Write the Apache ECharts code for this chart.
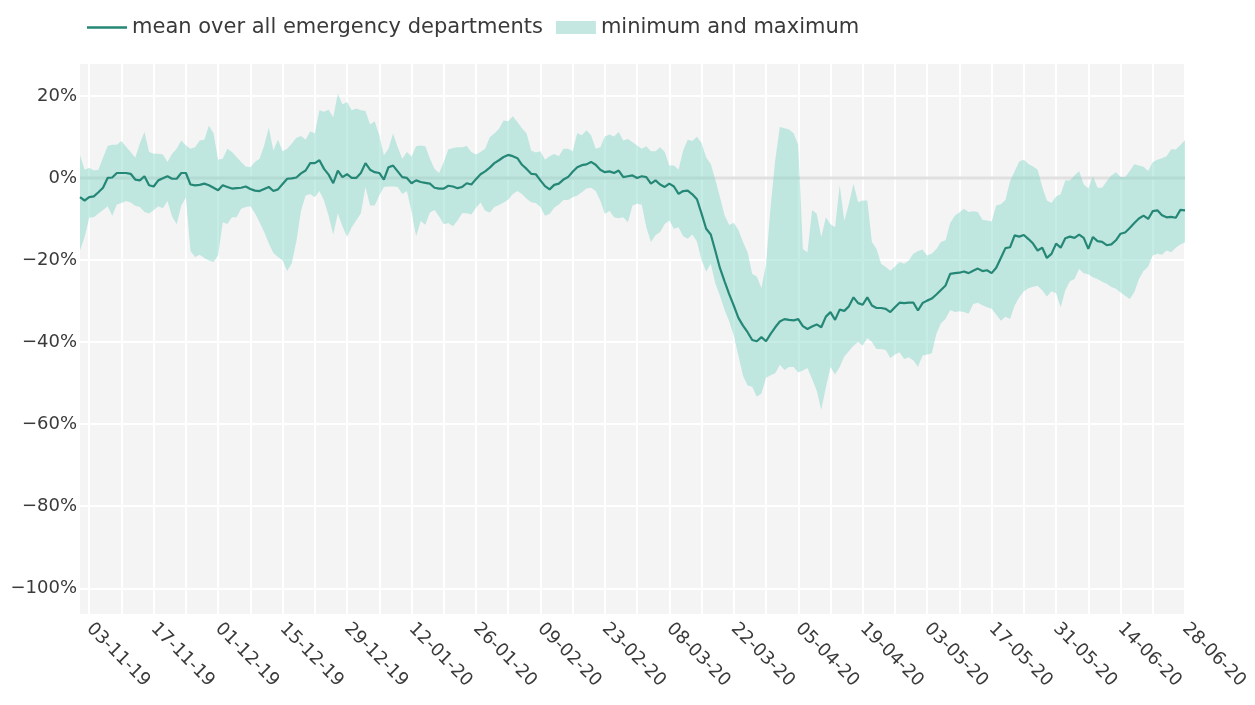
<!DOCTYPE html>
<html>
<head>
<meta charset="utf-8">
<script src="https://cdn.jsdelivr.net/npm/echarts@6/dist/echarts.min.js"></script>
<style>
  html, body { margin: 0; padding: 0; background: #fff; }
  #chart { width: 1255px; height: 705px; }
</style>
</head>
<body>
<div id="chart"></div>
<script>
// daily values, 01-11-19 .. 28-06-20 (change in %)
const startDate = '2019-11-01'
const dayCount = 241

const meanValues = [
  -4.7, -5.5, -4.7, -4.5, -3.5, -2.4, 0.0, 0.1, 1.2, 1.2,
  1.2, 1.0, -0.4, -0.6, 0.4, -1.8, -2.1, -0.6, -0.1, 0.4,
  -0.2, -0.2, 1.2, 1.2, -1.6, -1.8, -1.7, -1.4, -1.8, -2.4,
  -3.0, -1.8, -2.2, -2.6, -2.5, -2.4, -2.1, -2.7, -3.1, -3.2,
  -2.7, -2.2, -3.2, -2.8, -1.5, -0.2, -0.1, 0.1, 1.1, 1.8,
  3.6, 3.6, 4.3, 2.2, 0.8, -1.3, 1.8, 0.2, 0.9, 0.0,
  0.0, 1.2, 3.6, 2.0, 1.4, 1.2, -0.4, 2.6, 3.0, 1.6,
  0.2, 0.0, -1.3, -0.6, -1.0, -1.2, -1.4, -2.4, -2.6, -2.6,
  -1.9, -2.1, -2.5, -2.2, -1.3, -1.6, -0.3, 0.9, 1.6, 2.5,
  3.6, 4.3, 5.1, 5.6, 5.3, 4.8, 3.2, 2.2, 1.0, 0.9,
  -0.6, -2.0, -2.8, -1.7, -1.4, -0.4, 0.2, 1.5, 2.6, 3.1,
  3.3, 3.9, 3.2, 2.0, 1.4, 1.6, 1.2, 1.8, 0.2, 0.4,
  0.6, 0.0, 0.4, 0.2, -1.4, -0.6, -1.6, -2.2, -1.4, -2.1,
  -3.9, -3.2, -3.1, -4.0, -5.2, -8.7, -12.4, -13.8, -17.8, -22.0,
  -25.2, -28.3, -31.1, -34.1, -36.0, -37.6, -39.5, -39.8, -38.8, -39.8,
  -38.0, -36.4, -35.0, -34.4, -34.6, -34.7, -34.4, -36.1, -36.8, -36.2,
  -35.7, -36.4, -33.8, -32.7, -34.6, -32.1, -32.4, -31.3, -29.1, -30.5,
  -30.9, -29.1, -31.1, -31.7, -31.7, -31.9, -32.7, -31.5, -30.4, -30.5,
  -30.4, -30.4, -32.3, -30.5, -29.9, -29.4, -28.4, -27.3, -26.2, -23.4,
  -23.2, -23.1, -22.8, -23.2, -22.6, -22.1, -22.7, -22.5, -23.2, -21.9,
  -19.5, -17.1, -16.9, -14.0, -14.3, -13.9, -14.9, -16.0, -17.7, -17.0,
  -19.5, -18.5, -16.0, -17.0, -14.7, -14.3, -14.6, -13.8, -14.6, -17.3,
  -14.4, -15.4, -15.6, -16.4, -16.2, -15.2, -13.6, -13.3, -12.2, -11.0,
  -9.9, -9.2, -10.0, -8.1, -7.9, -9.1, -9.6, -9.5, -9.7, -7.8,
  -7.9
]

const maxValues = [
  5.5, 2.0, 2.5, 1.8, 2.0, 4.9, 7.8, 8.1, 8.1, 9.0,
  7.6, 6.3, 4.9, 8.4, 11.2, 6.3, 5.9, 5.9, 5.7, 3.9,
  5.9, 7.1, 9.1, 7.9, 7.1, 7.5, 9.1, 9.3, 12.8, 10.9,
  4.4, 4.7, 7.1, 6.3, 5.1, 3.9, 2.8, 2.6, 3.9, 4.7,
  7.9, 12.2, 6.7, 9.3, 6.5, 7.1, 8.4, 9.8, 10.2, 9.3,
  11.4, 10.8, 16.5, 16.1, 16.6, 14.8, 20.5, 17.9, 18.5, 16.5,
  16.9, 16.5, 16.3, 13.0, 13.8, 10.4, 5.5, 7.1, 10.8, 7.5,
  4.7, 6.3, 5.2, 7.7, 7.9, 7.7, 4.7, 2.2, 1.2, 3.9,
  6.9, 7.3, 7.5, 7.5, 7.8, 6.3, 5.7, 6.3, 7.1, 9.9,
  10.8, 12.0, 14.0, 13.8, 15.0, 13.6, 12.1, 10.8, 6.7, 6.2,
  6.5, 4.4, 5.3, 5.8, 5.3, 7.1, 7.1, 6.5, 10.9, 10.4,
  11.6, 10.4, 7.1, 7.5, 10.1, 10.6, 10.1, 11.2, 9.1, 9.5,
  8.7, 7.9, 7.1, 7.7, 6.5, 6.5, 7.5, 6.3, 3.0, 3.0,
  2.0, 6.7, 9.3, 9.0, 10.0, 8.5, 5.0, 3.4, -0.5, -4.7,
  -9.1, -11.5, -10.9, -12.7, -15.6, -18.1, -23.4, -24.0, -26.8, -21.0,
  -7.0, 4.3, 12.4, 12.1, 11.8, 10.9, 8.0, -17.3, -18.1, -7.9,
  -8.7, -14.4, -9.6, -11.3, -12.0, -1.8, -10.5, -6.3, -1.4, -5.9,
  -5.5, -5.5, -15.6, -17.3, -20.9, -21.7, -22.6, -21.6, -20.5, -20.9,
  -20.1, -18.5, -17.8, -17.5, -18.9, -18.5, -17.3, -15.6, -15.2, -11.0,
  -9.2, -8.4, -7.5, -8.3, -8.1, -8.3, -10.2, -10.4, -10.6, -6.7,
  -6.4, -5.4, -0.8, 1.6, 4.0, 4.4, 3.4, 2.8, 2.0, -2.2,
  -5.5, -6.1, -4.5, -4.0, -0.6, -0.6, 0.6, 1.7, -1.6, -2.6,
  0.4, -2.4, -2.4, -0.8, 0.6, 1.4, 0.2, 0.2, 1.7, 3.3,
  3.0, 2.7, 1.7, 3.9, 4.4, 4.8, 5.3, 7.0, 6.9, 8.0,
  9.2
]

const minValues = [
  -17.7, -14.4, -9.7, -9.6, -8.7, -7.8, -6.9, -9.2, -6.5, -6.1,
  -5.6, -6.0, -6.8, -7.1, -8.3, -8.7, -7.9, -6.9, -7.4, -5.6,
  -9.4, -11.3, -6.7, -4.8, -17.8, -19.3, -18.7, -19.5, -20.1, -20.5,
  -18.9, -10.8, -11.2, -9.6, -9.6, -7.5, -7.1, -6.9, -8.6, -10.8,
  -13.2, -15.9, -18.3, -19.3, -20.1, -22.7, -20.8, -15.4, -8.0, -4.3,
  -3.9, -4.7, -3.2, -5.5, -9.2, -13.8, -8.6, -11.8, -14.4, -12.0,
  -10.4, -8.6, -2.2, -6.7, -6.7, -4.3, -2.2, -2.1, -2.1, -2.2,
  -3.9, -3.2, -8.1, -14.2, -10.5, -11.4, -8.4, -7.8, -9.4, -11.3,
  -11.0, -11.8, -10.4, -8.6, -8.6, -8.9, -7.3, -6.0, -8.0, -8.4,
  -7.1, -6.6, -6.0, -5.3, -3.9, -3.2, -3.9, -5.1, -5.9, -6.1,
  -7.1, -9.2, -8.8, -7.3, -6.5, -5.4, -5.4, -4.7, -4.3, -3.5,
  -2.6, -2.4, -3.2, -5.5, -8.8, -8.0, -9.6, -9.8, -9.6, -10.8,
  -6.7, -6.3, -6.5, -12.0, -15.6, -14.0, -13.2, -11.2, -10.4, -12.4,
  -12.0, -14.2, -14.8, -13.8, -15.5, -20.0, -22.8, -20.9, -25.7, -28.7,
  -32.2, -34.9, -38.4, -43.3, -48.2, -50.6, -50.9, -53.3, -52.5, -48.7,
  -48.1, -47.6, -45.5, -46.8, -46.1, -46.1, -47.4, -46.9, -46.3, -49.0,
  -51.8, -56.5, -51.0, -46.1, -47.9, -46.1, -43.5, -42.2, -40.9, -40.0,
  -40.9, -39.0, -40.0, -41.7, -41.7, -41.9, -43.9, -43.0, -42.5, -44.1,
  -43.7, -44.5, -46.0, -43.3, -43.0, -42.7, -38.0, -35.4, -34.3, -32.2,
  -32.7, -32.5, -32.7, -33.1, -30.7, -30.4, -31.0, -31.5, -31.9, -33.3,
  -34.8, -33.8, -34.4, -31.1, -29.1, -27.6, -26.9, -26.5, -26.3, -27.4,
  -28.9, -27.6, -28.1, -31.5, -27.4, -25.2, -24.6, -22.2, -23.2, -23.5,
  -24.2, -24.6, -25.3, -25.8, -26.6, -27.0, -27.9, -28.7, -29.5, -27.8,
  -24.6, -22.7, -21.6, -18.9, -18.5, -18.7, -17.7, -18.1, -17.0, -16.2,
  -15.7
]

const yTicks = [-100, -80, -60, -40, -20, 0, 20]

// dd-mm-yy labels, one per day
const pad = n => String(n).padStart(2, '0')
const categories = []
const d0 = new Date(startDate + 'T00:00:00Z')
for (let i = 0; i < dayCount; i++) {
  const d = new Date(d0.getTime() + i * 86400000)
  categories.push(pad(d.getUTCDate()) + '-' + pad(d.getUTCMonth() + 1) + '-' + String(d.getUTCFullYear()).slice(2))
}

const bandSpan = maxValues.map((v, i) => +(v - minValues[i]).toFixed(2))
const zeroLine = categories.map(() => 0)

const FONT = 'DejaVu Sans'
const LINE_COLOR = '#258775'
const BAND_COLOR = 'rgba(120, 210, 195, 0.42)'

const chart = echarts.init(document.getElementById('chart'))
chart.setOption({
  animation: false,
  backgroundColor: '#fff',
  textStyle: { fontFamily: FONT },
  legend: {
    top: 12,
    left: 82,
    itemWidth: 40,
    itemHeight: 13,
    itemGap: 13,
    textStyle: { fontFamily: FONT, fontSize: 21, color: '#3a3a3a' },
    data: [
      {
        name: 'mean over all emergency departments',
        icon: 'path://M0,0H40V2.4H0Z',
        itemStyle: { color: LINE_COLOR }
      },
      { name: 'minimum and maximum', icon: 'rect', itemStyle: { color: '#c4e7e1' } }
    ]
  },
  grid: {
    left: 80,
    right: 70,
    top: 63,
    bottom: 90,
    show: true,
    backgroundColor: '#f4f4f4',
    borderWidth: 0
  },
  xAxis: {
    type: 'category',
    data: categories,
    boundaryGap: false,
    axisLine: { show: false },
    axisTick: { show: false },
    axisLabel: {
      rotate: -45,
      margin: 11,
      fontSize: 18,
      fontFamily: FONT,
      color: '#3a3a3a',
      interval: idx => idx % 14 === 2
    },
    splitLine: {
      show: true,
      interval: idx => idx % 7 === 2,
      lineStyle: { color: '#ffffff', width: 2 }
    }
  },
  yAxis: {
    type: 'value',
    min: -106.5,
    max: 28,
    splitNumber: 7,
    axisLine: { show: false },
    axisTick: { show: false },
    axisLabel: {
      margin: 3,
      fontSize: 18,
      fontFamily: FONT,
      color: '#3a3a3a',
      showMinLabel: false,
      showMaxLabel: false,
      formatter: v => yTicks.includes(v) ? (v < 0 ? '\u2212' + Math.abs(v) : v) + '%' : ''
    },
    splitLine: { lineStyle: { color: '#ffffff', width: 2 } }
  },
  series: [
    {
      name: 'zero',
      type: 'line',
      data: zeroLine,
      symbol: 'none',
      silent: true,
      z: 1,
      lineStyle: { color: '#e0e0e0', width: 3 }
    },
    {
      name: 'minimum',
      type: 'line',
      stack: 'band',
      stackStrategy: 'all',
      data: minValues,
      symbol: 'none',
      lineStyle: { width: 0, opacity: 0 }
    },
    {
      name: 'minimum and maximum',
      type: 'line',
      stack: 'band',
      stackStrategy: 'all',
      data: bandSpan,
      symbol: 'none',
      color: '#c4e7e1',
      lineStyle: { width: 0, opacity: 0 },
      areaStyle: { color: BAND_COLOR, opacity: 1 }
    },
    {
      name: 'mean over all emergency departments',
      type: 'line',
      data: meanValues,
      symbol: 'none',
      color: LINE_COLOR,
      lineStyle: { color: LINE_COLOR, width: 2.2 }
    }
  ]
})
</script>
</body>
</html>
